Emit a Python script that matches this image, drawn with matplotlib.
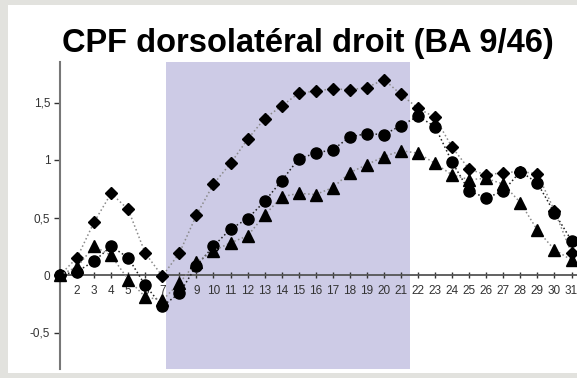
import matplotlib
matplotlib.use("Agg")
import matplotlib.pyplot as plt
from matplotlib.patches import Rectangle

plt.rcParams['font.family'] = ['Liberation Sans', 'DejaVu Sans']

x = list(range(1, 32))
diamonds = [0, 0.15, 0.46, 0.71, 0.57, 0.19, -0.01, 0.19, 0.52, 0.79, 0.97, 1.18, 1.36, 1.47, 1.58,
            1.60, 1.62, 1.61, 1.63, 1.70, 1.57, 1.45, 1.37, 1.11, 0.92, 0.87, 0.89, 0.90, 0.88, 0.56, 0.19]
circles = [0, 0.03, 0.12, 0.25, 0.15, -0.09, -0.27, -0.16, 0.08, 0.25, 0.40, 0.49, 0.64, 0.82, 1.01,
           1.06, 1.09, 1.20, 1.23, 1.22, 1.30, 1.38, 1.29, 0.98, 0.73, 0.67, 0.73, 0.90, 0.80, 0.54, 0.30]
triangles = [0, 0.07, 0.25, 0.17, -0.04, -0.19, -0.22, -0.07, 0.11, 0.21, 0.28, 0.34, 0.52, 0.68, 0.71,
             0.70, 0.76, 0.89, 0.96, 1.03, 1.08, 1.06, 0.97, 0.87, 0.83, 0.84, 0.79, 0.63, 0.39, 0.22, 0.13]
yticks = [-0.5, 0, 0.5, 1, 1.5]
ytick_labels = ["-0,5", "0", "0,5", "1", "1,5"]
xtick_labels = [str(i) for i in range(2, 32)]
shade_start, shade_end = 7.2, 21.5
title = "CPF dorsolatéral droit (BA 9/46)"

W, H = 577, 378
fig = plt.figure(figsize=(W / 100, H / 100), dpi=100, facecolor='#e2e2de')
fig.patches.append(Rectangle((8 / W, 5 / H), 1 - 8 / W, (373 - 5) / H, transform=fig.transFigure,
                             facecolor='white', edgecolor='none', zorder=-5))

ax = fig.add_axes([60 / W, (H - 369) / H, (W - 60) / W, (369 - 62) / H])
ax.set_zorder(1)
ax.set_facecolor('none')
ax.set_xlim(1, 1 + (W - 60) / 17.05)
ax.set_ylim(-(369 - 275) / 115, (275 - 62) / 115)

ax.axvspan(shade_start, shade_end, color='#cdcbe6', zorder=0, lw=0)

ax.plot(x, diamonds, linestyle=':', color='#8a8a8a', lw=1.1, marker='D', ms=6.5,
        mfc='black', mec='black', zorder=3, clip_on=False)
ax.plot(x, circles, linestyle=':', color='#222222', lw=1.1, marker='o', ms=8,
        mfc='black', mec='black', zorder=3, clip_on=False)
ax.plot(x, triangles, linestyle=':', color='#8a8a8a', lw=1.1, marker='^', ms=8,
        mfc='black', mec='black', zorder=3, clip_on=False)

for s in ['top', 'right']:
    ax.spines[s].set_visible(False)
ax.spines['left'].set_color('#777777')
ax.spines['left'].set_linewidth(1.5)
ax.spines['bottom'].set_position(('data', 0))
ax.spines['bottom'].set_color('#555555')
ax.spines['bottom'].set_linewidth(1.3)
ax.spines['bottom'].set_zorder(2)

ax.set_yticks(yticks)
ax.set_yticklabels(ytick_labels)
ax.tick_params(axis='y', direction='out', length=4, width=1, colors='#333333', labelsize=8.5, pad=3)
ax.set_xticks(range(2, 32))
ax.set_xticklabels(xtick_labels)
ax.tick_params(axis='x', direction='inout', length=5, width=1, colors='#333333', labelsize=8.5, pad=5)

fig.text(308 / W, 1 - 52 / H, title, ha='center', va='baseline', fontsize=23.5, fontweight='bold', color='black')

fig.savefig('out.png', dpi=100, facecolor=fig.get_facecolor())
